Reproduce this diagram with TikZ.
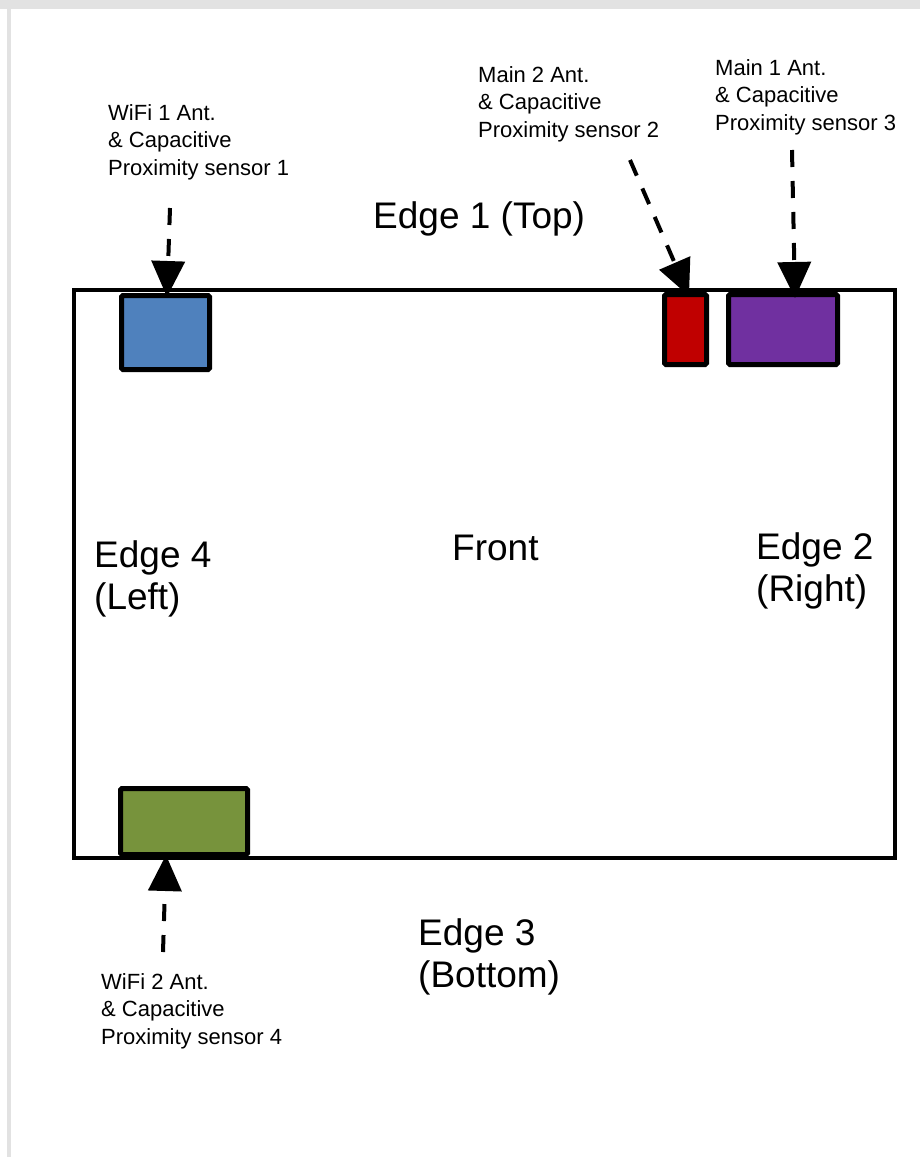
\documentclass[tikz,border=0pt]{standalone}
\usepackage{fontspec}
\setmainfont{Liberation Sans}
\usetikzlibrary{arrows.meta,calc}
\definecolor{antblue}{HTML}{4F81BD}
\definecolor{antred}{HTML}{C00000}
\definecolor{antpurple}{HTML}{7030A0}
\definecolor{antgreen}{HTML}{77933C}
\definecolor{pageedge}{HTML}{E2E2E2}
\begin{document}
\begin{tikzpicture}[x=1pt,y=-1pt,
  small/.style={font=\fontsize{22}{27.5}\selectfont, align=left, anchor=base west, inner sep=0pt},
  big/.style={font=\fontsize{37}{42}\selectfont, align=left, anchor=base west, inner sep=0pt},
  antbox/.style={draw=black, line width=5pt, rounded corners=1.5pt, inner sep=0pt},
  arr/.style={line width=4pt, dash pattern=on 17pt off 14pt, -{Triangle[width=33pt,length=36pt]}}
]
\useasboundingbox (0,0) rectangle (920,1157);
\fill[white] (0,0) rectangle (920,1157);
\fill[pageedge] (0,0) rectangle (920,9);
\fill[pageedge] (7,0) rectangle (11,1157);

% device outline
\node[draw=black, line width=3.5pt, inner sep=0pt, minimum width=821pt, minimum height=568pt] (device) at (484.5,574) {};

% antenna boxes
\node[antbox, fill=antblue, minimum width=88pt, minimum height=74pt] (blue) at (165.5,332.5) {};
\node[antbox, fill=antred, minimum width=42pt, minimum height=70pt] (red) at (685.5,329.5) {};
\node[antbox, fill=antpurple, minimum width=109pt, minimum height=70pt] (purple) at (783,329.5) {};
\node[antbox, fill=antgreen, minimum width=127pt, minimum height=66pt] (green) at (184,821.5) {};

% small labels (anchored at the baseline of their last line)
\node[small] (l1) at (108,175) {WiFi 1 Ant.\\\& Capacitive\\Proximity sensor 1};
\node[small] (l2) at (478,137) {Main 2 Ant.\\\& Capacitive\\Proximity sensor 2};
\node[small] (l3) at (715,130) {Main 1 Ant.\\\& Capacitive\\Proximity sensor 3};
\node[small] (l4) at (101,1044) {WiFi 2 Ant.\\\& Capacitive\\Proximity sensor 4};

% big labels
\node[big] (e1) at (373,228) {Edge 1 (Top)};
\node[big] (fr) at (452,560) {Front};
\node[big] (e2) at (756,601) {Edge 2\\(Right)};
\node[big] (e4) at (94,609) {Edge 4\\(Left)};
\node[big] (e3) at (418,987) {Edge 3\\(Bottom)};

% arrows
\coordinate (t1) at (170,208);
\coordinate (t2) at (630,160);
\coordinate (t3) at (792,150);
\coordinate (t4) at (163,952);
\draw[arr] (t1) -- ([xshift=1.5pt,yshift=-4pt]blue.north);
\draw[arr] (t2) -- ([xshift=3.5pt,yshift=-4pt]red.north);
\draw[arr] (t3) -- ([xshift=12pt,yshift=-6pt]purple.north);
\draw[arr] (t4) -- ([xshift=-18pt,yshift=2pt]green.south);
\end{tikzpicture}
\end{document}
